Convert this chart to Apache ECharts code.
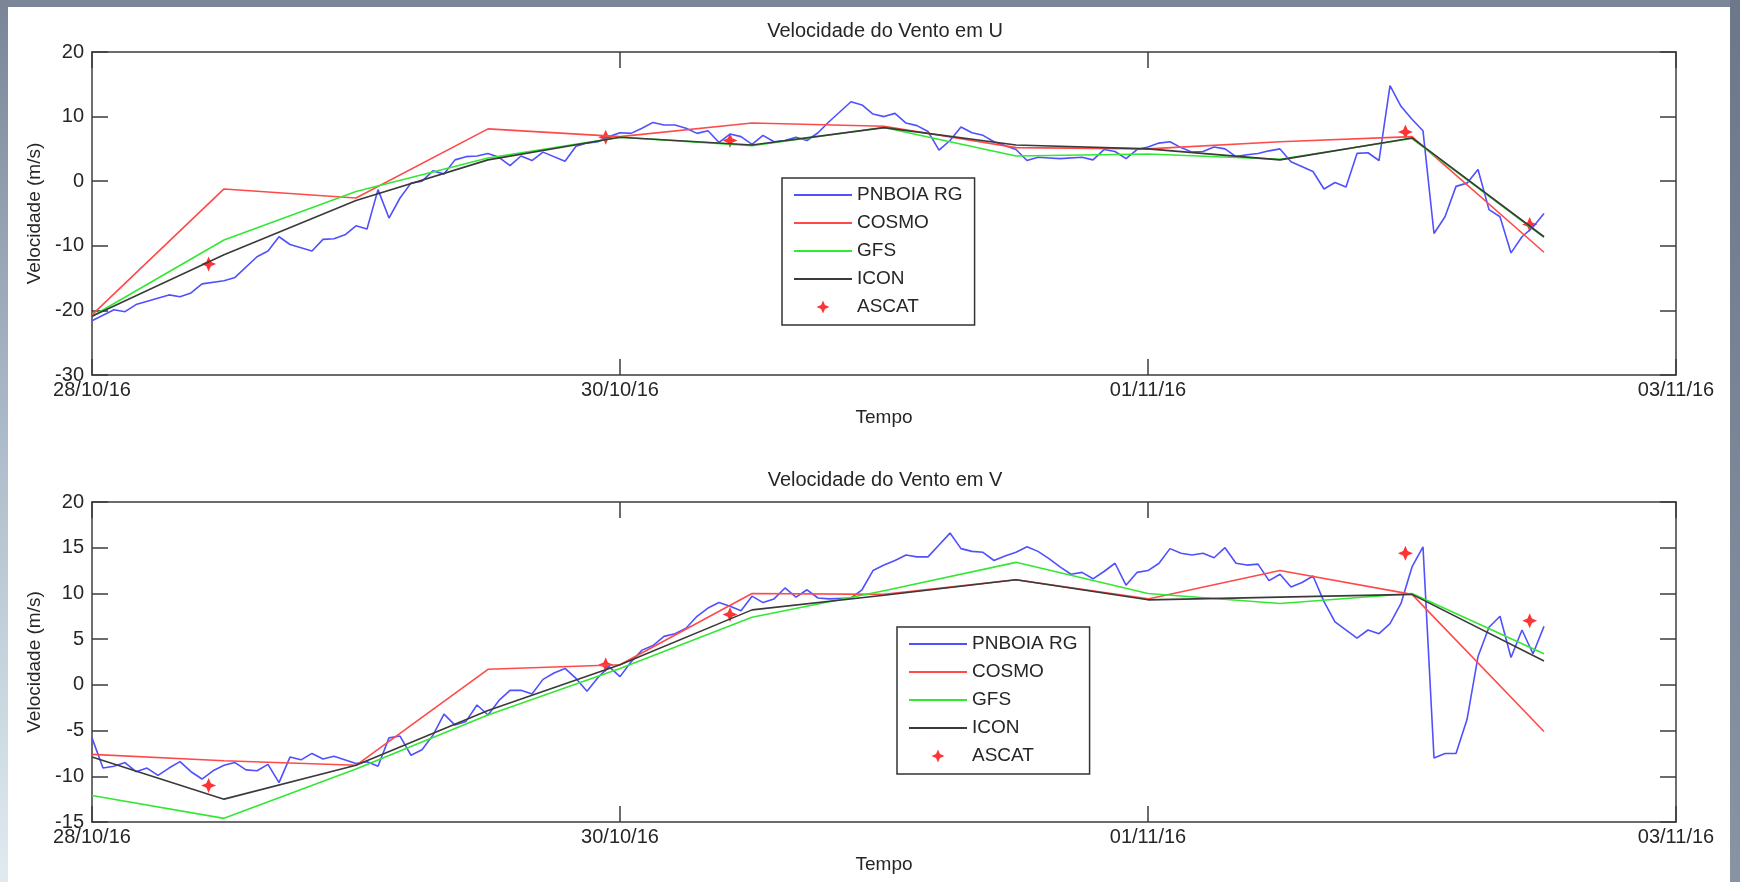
<!DOCTYPE html>
<html>
<head>
<meta charset="utf-8">
<title>Velocidade do Vento</title>
<script src="https://cdn.jsdelivr.net/npm/echarts@6/dist/echarts.min.js"></script>
<style>
  html, body { margin: 0; padding: 0; background: #fff; }
  #chart { width: 1740px; height: 882px; }
</style>
</head>
<body>
<div id="chart"></div>
<script>
// eixo x em horas desde 28/10/16 00:00
var dateLabels = ["28/10/16", "30/10/16", "01/11/16", "03/11/16"];
var seriesNames = ["PNBOIA RG", "COSMO", "GFS", "ICON", "ASCAT"];

// boia PNBOIA RG, componente U  [hora, m/s]
var uBuoy = [[0,-21.6],[2,-19.9],[3,-20.2],[4,-19.1],[7,-17.6],[8,-17.9],[9,-17.3],[10,-15.9],[12,-15.4],[13,-14.9],
  [15,-11.7],[16,-10.8],[17,-8.6],[18,-9.8],[20,-10.8],[21,-9.0],[22,-8.9],[23,-8.3],[24,-6.9],[25,-7.4],
  [26,-1.3],[27,-5.7],[28,-2.6],[29,-0.3],[30,0.0],[31,1.6],[32,1.1],[33,3.3],[34,3.8],[35,3.9],
  [36,4.3],[37,3.7],[38,2.4],[39,3.9],[40,3.2],[41,4.5],[43,3.1],[44,5.4],[45,5.9],[46,6.1],
  [47,6.9],[48,7.5],[49,7.4],[50,8.2],[51,9.1],[52,8.7],[53,8.7],[54,8.2],[55,7.4],[56,7.8],
  [57,6.0],[58,7.3],[59,6.9],[60,5.7],[61,7.1],[62,6.1],[63,6.3],[64,6.8],[65,6.3],[66,7.5],
  [67,9.2],[69,12.3],[70,11.8],[71,10.4],[72,10.0],[73,10.5],[74,9.0],[75,8.6],[76,7.7],[77,4.8],
  [78,6.3],[79,8.4],[80,7.5],[81,7.1],[82,6.1],[84,4.9],[85,3.2],[86,3.7],[87,3.6],[88,3.5],
  [90,3.7],[91,3.3],[92,4.9],[93,4.6],[94,3.5],[95,4.9],[96,5.3],[97,5.9],[98,6.1],[99,5.2],
  [100,4.5],[101,4.6],[102,5.3],[103,5.0],[104,3.8],[105,4.1],[106,4.3],[107,4.7],[108,5.0],[109,3.0],
  [111,1.5],[112,-1.2],[113,-0.2],[114,-0.9],[115,4.3],[116,4.4],[117,3.2],[118,14.8],[119,11.6],[120,9.6],
  [121,7.8],[122,-8.1],[123,-5.5],[124,-0.8],[125,-0.3],[126,1.8],[127,-4.4],[128,-5.5],[129,-11.1],[130,-8.6],
  [131,-7.1],[132,-5.0]];

// boia PNBOIA RG, componente V
var vBuoy = [[0,-5.8],[1,-9.1],[2,-8.9],[3,-8.5],[4,-9.5],[5,-9.1],[6,-9.9],[7,-9.1],[8,-8.4],[9,-9.5],
  [10,-10.3],[11,-9.4],[12,-8.8],[13,-8.5],[14,-9.3],[15,-9.4],[16,-8.7],[17,-10.7],[18,-7.9],[19,-8.2],
  [20,-7.5],[21,-8.1],[22,-7.8],[24,-8.6],[25,-8.4],[26,-8.9],[27,-5.8],[28,-5.6],[29,-7.7],[30,-7.1],
  [31,-5.5],[32,-3.2],[33,-4.4],[34,-4.0],[35,-2.2],[36,-3.3],[37,-1.7],[38,-0.6],[39,-0.6],[40,-1.0],
  [41,0.6],[42,1.3],[43,1.8],[44,0.7],[45,-0.7],[46,0.8],[47,2.0],[48,0.9],[49,2.5],[50,3.8],
  [51,4.3],[52,5.3],[53,5.6],[54,6.2],[55,7.5],[56,8.4],[57,9.0],[58,8.6],[59,8.1],[60,9.7],
  [61,9.0],[62,9.4],[63,10.6],[64,9.6],[65,10.4],[66,9.5],[67,9.4],[69,9.5],[70,10.4],[71,12.5],
  [72,13.1],[73,13.6],[74,14.2],[75,14.0],[76,14.0],[77,15.3],[78,16.6],[79,14.9],[80,14.6],[81,14.5],
  [82,13.6],[83,14.1],[84,14.5],[85,15.1],[86,14.6],[87,13.8],[88,12.9],[89,12.1],[90,12.3],[91,11.6],
  [92,12.4],[93,13.3],[94,10.9],[95,12.3],[96,12.5],[97,13.3],[98,14.9],[99,14.4],[100,14.2],[101,14.4],
  [102,13.9],[103,15.0],[104,13.3],[105,13.1],[106,13.2],[107,11.4],[108,12.1],[109,10.7],[110,11.2],[111,11.9],
  [112,9.1],[113,6.9],[115,5.1],[116,6.0],[117,5.6],[118,6.7],[119,8.9],[120,12.9],[121,15.1],[122,-8.0],
  [123,-7.5],[124,-7.5],[125,-3.8],[126,3.1],[127,6.3],[128,7.5],[129,3.0],[130,6.0],[131,3.4],[132,6.4]];

// modelos (saida a cada 12 h)
var modelHours = [0, 12, 24, 36, 48, 60, 72, 84, 96, 108, 120, 132];
var uCosmo = [-20.7, -1.2, -2.6, 8.1, 6.9, 9.0, 8.5, 5.2, 5.0, 6.1, 6.9, -11.0];
var uGfs   = [-20.9, -9.1, -1.6, 3.6, 6.8, 5.5, 8.3, 3.9, 4.2, 3.4, 6.6, -8.7];
var uIcon  = [-20.9, -11.4, -3.0, 3.3, 6.8, 5.6, 8.3, 5.6, 5.0, 3.3, 6.7, -8.6];
var vCosmo = [-7.6, -8.3, -8.8, 1.7, 2.2, 10.0, 9.9, 11.5, 9.4, 12.5, 9.9, -5.1];
var vGfs   = [-12.1, -14.6, -9.2, -3.3, 1.8, 7.4, 10.3, 13.4, 10.0, 8.9, 10.0, 3.4];
var vIcon  = [-7.9, -12.5, -8.8, -2.8, 2.2, 8.2, 9.8, 11.5, 9.3, 9.6, 9.9, 2.6];

// passagens do satelite ASCAT
var ascatHours = [10.6, 46.7, 58, 119.4, 130.7];
var uAscat = [-12.8, 6.8, 6.3, 7.6, -6.7];
var vAscat = [-11.0, 2.2, 7.7, 14.4, 7.0];

(function() {
  var myChart = echarts.init(document.getElementById("chart"));
  var font = "'Liberation Sans', Arial, Helvetica, sans-serif";
  var ink = "#262626";
  var boxLine = { onZero: false, lineStyle: { color: "#3c3c3c", width: 1.5 } };
  var tick = { inside: true, length: 16, lineStyle: { color: "#3c3c3c", width: 1.5 } };
  var star = "path://M0,-10L3,-3L10,0L3,3L0,10L-3,3L-10,0L-3,-3Z";

  function pairs(xs, ys) {
    return xs.map(function(x, i) { return [x, ys[i]]; });
  }

  function xAxes(grid) {
    var base = {
      gridIndex: grid, type: "value", min: 0, max: 144, interval: 48,
      axisLine: boxLine, axisTick: tick, splitLine: { show: false }
    };
    var bottom = Object.assign({}, base, {
      position: "bottom",
      name: "Tempo", nameLocation: "middle", nameGap: 33,
      nameTextStyle: { fontFamily: font, fontSize: 19, color: ink },
      axisLabel: {
        margin: 5, fontFamily: font, fontSize: 20, color: ink,
        showMinLabel: true, showMaxLabel: true,
        formatter: function(v) { return dateLabels[Math.round(v / 48)]; }
      }
    });
    var top = Object.assign({}, base, { position: "top", axisLabel: { show: false } });
    return [bottom, top];
  }

  function yAxes(grid, min, max, step) {
    var base = {
      gridIndex: grid, type: "value", min: min, max: max, interval: step,
      axisLine: boxLine, axisTick: tick, splitLine: { show: false }
    };
    var left = Object.assign({}, base, {
      position: "left",
      name: "Velocidade (m/s)", nameLocation: "middle", nameGap: 40, nameRotate: 90,
      nameTextStyle: { fontFamily: font, fontSize: 19, color: ink },
      axisLabel: { margin: 8, fontFamily: font, fontSize: 20, color: ink, showMinLabel: true, showMaxLabel: true }
    });
    var right = Object.assign({}, base, { position: "right", axisLabel: { show: false } });
    return [left, right];
  }

  function lineSeries(name, color, xi, yi, data) {
    return {
      name: name, type: "line", xAxisIndex: xi, yAxisIndex: yi,
      data: data, symbol: "none", showSymbol: false,
      lineStyle: { color: color, width: 1.6 }, itemStyle: { color: color },
      animation: false
    };
  }

  function plotSeries(xi, yi, buoy, cosmo, gfs, icon, ascat) {
    return [
      lineSeries("PNBOIA RG", "#5050ff", xi, yi, buoy),
      lineSeries("COSMO", "#ff4a4a", xi, yi, pairs(modelHours, cosmo)),
      lineSeries("GFS", "#33e833", xi, yi, pairs(modelHours, gfs)),
      lineSeries("ICON", "#3a3a3a", xi, yi, pairs(modelHours, icon)),
      {
        name: "ASCAT", type: "scatter", xAxisIndex: xi, yAxisIndex: yi,
        data: pairs(ascatHours, ascat), symbol: star, symbolSize: 15,
        itemStyle: { color: "#ff0000" }, animation: false
      }
    ];
  }

  // legenda no estilo do matlab: so a linha, sem marcador
  function legendAt(left, top) {
    var items = seriesNames.map(function(n) {
      if (n === "ASCAT") return { name: n };
      return { name: n, itemStyle: { opacity: 0 } };
    });
    return {
      data: items, orient: "vertical", left: left, top: top,
      backgroundColor: "#fff", borderColor: "#333", borderWidth: 1.5,
      padding: [3, 12, 4, 11], itemGap: 0, itemWidth: 58, itemHeight: 13,
      textStyle: { fontFamily: font, fontSize: 19, color: ink, lineHeight: 28 },
      selectedMode: false
    };
  }

  var titleStyle = { fontFamily: font, fontSize: 20, fontWeight: "normal", color: ink };

  var option = {
    backgroundColor: "#fff",
    animation: false,
    title: [
      { text: "Velocidade do Vento em U", left: 880, top: 16, textAlign: "center", textStyle: titleStyle },
      { text: "Velocidade do Vento em V", left: 880, top: 465, textAlign: "center", textStyle: titleStyle }
    ],
    // moldura cinza-azulada em volta da figura
    graphic: [
      { type: "rect", x: 0, y: 0, shape: { width: 1740, height: 7 }, style: { fill: "#7b8798" } },
      { type: "rect", x: 0, y: 0, shape: { width: 8, height: 882 },
        style: { fill: new echarts.graphic.LinearGradient(0, 0, 0, 1, [
          { offset: 0, color: "#7a8698" }, { offset: 0.5, color: "#adbcc9" }, { offset: 1, color: "#e0ebf0" }]) } },
      { type: "rect", x: 1730, y: 0, shape: { width: 10, height: 882 },
        style: { fill: new echarts.graphic.LinearGradient(0, 0, 0, 1, [
          { offset: 0, color: "#6c7889" }, { offset: 1, color: "#8894a4" }]) } }
    ],
    legend: [legendAt(782, 178), legendAt(897, 627)],
    grid: [
      { left: 92, width: 1584, top: 52, height: 323 },
      { left: 92, width: 1584, top: 502, height: 320 }
    ],
    xAxis: xAxes(0).concat(xAxes(1)),
    yAxis: yAxes(0, -30, 20, 10).concat(yAxes(1, -15, 20, 5)),
    series: plotSeries(0, 0, uBuoy, uCosmo, uGfs, uIcon, uAscat)
      .concat(plotSeries(2, 2, vBuoy, vCosmo, vGfs, vIcon, vAscat))
  };

  myChart.setOption(option);
  window.addEventListener("resize", function() {
    myChart.resize();
  });
})();
</script>
</body>
</html>
